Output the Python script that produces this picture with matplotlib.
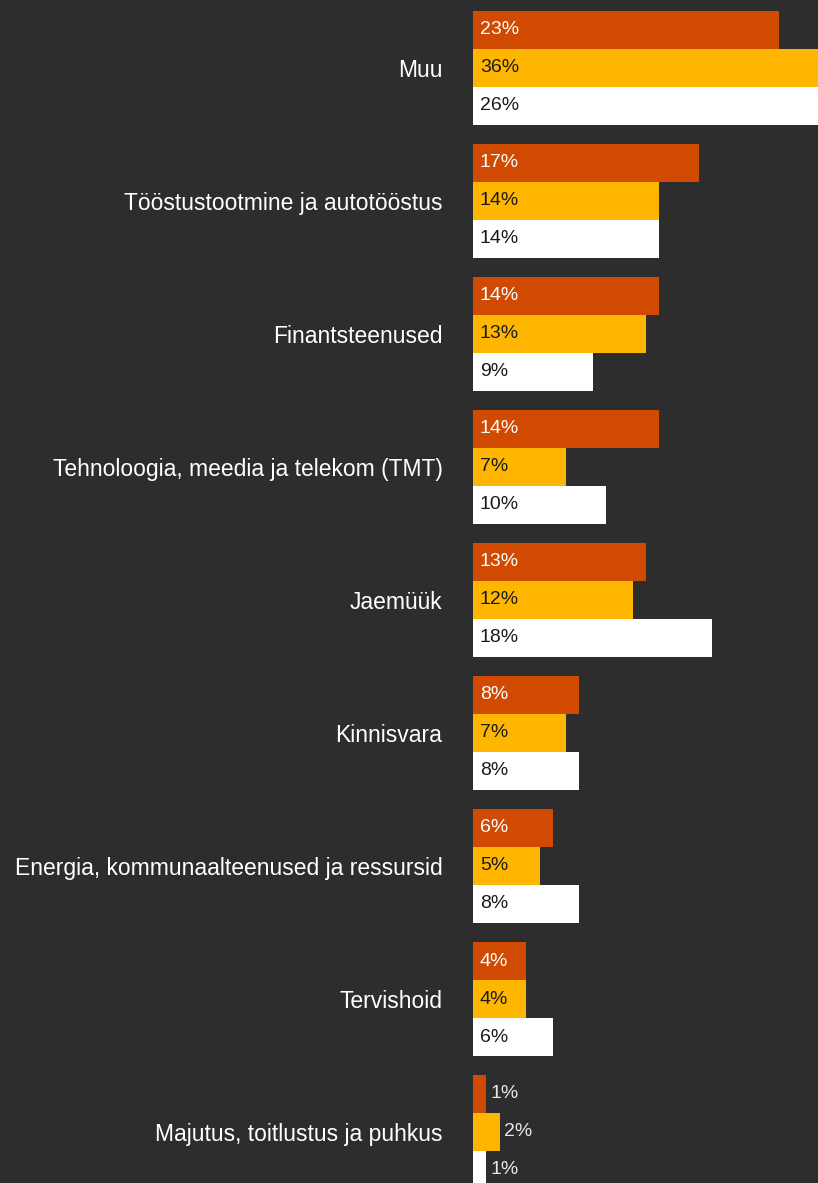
import numpy as np
import matplotlib.pyplot as plt

categories = ['Muu', 'Tööstustootmine ja autotööstus', 'Finantsteenused',
              'Tehnoloogia, meedia ja telekom (TMT)', 'Jaemüük', 'Kinnisvara',
              'Energia, kommunaalteenused ja ressursid', 'Tervishoid',
              'Majutus, toitlustus ja puhkus']
series_a = [23, 17, 14, 14, 13, 8, 6, 4, 1]
series_b = [36, 14, 13, 7, 12, 7, 5, 4, 2]
series_c = [26, 14, 9, 10, 18, 8, 8, 6, 1]

bg = '#2d2d2d'
colors = ['#d04a02', '#ffb600', '#ffffff']
text_in = ['#ffffff', '#1a1a1a', '#1a1a1a']

plt.rcParams['font.family'] = ['Liberation Sans', 'DejaVu Sans']

fig = plt.figure(figsize=(8.18, 11.83), dpi=100, facecolor=bg)
ax = fig.add_axes([473 / 818, 0, 345 / 818, 1])
ax.set_facecolor(bg)

y = np.arange(len(categories))
h = 38 / 133
for k, vals in enumerate([series_a, series_b, series_c]):
    pos = y + (k - 1) * h
    ax.barh(pos, vals, height=h, color=colors[k], linewidth=0)
    for p, v in zip(pos, vals):
        if v < 3:
            ax.annotate(f'{v}%', (v, p), xytext=(3, 0), textcoords='offset points',
                        va='center', ha='left', fontsize=14, color='#e8e8e8')
        else:
            ax.annotate(f'{v}%', (0, p), xytext=(5, 0), textcoords='offset points',
                        va='center', ha='left', fontsize=14, color=text_in[k])

ax.set_xlim(0, 345 / 13.3)
ax.set_ylim(8 + 51 / 133, -68 / 133)
ax.set_yticks(y)
ax.set_yticklabels(categories, fontsize=16.5, color='white')
ax.tick_params(axis='y', length=0, pad=22)
ax.set_xticks([])
for s in ax.spines.values():
    s.set_visible(False)

fig.savefig('out.png', dpi=100, facecolor=bg)
